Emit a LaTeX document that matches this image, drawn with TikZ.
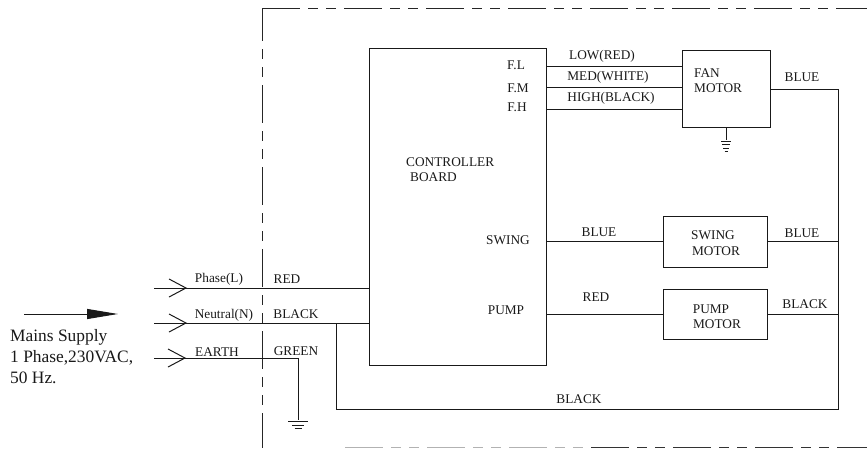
\documentclass[tikz,border=0pt]{standalone}
\usepackage{fontspec}
\setmainfont{Liberation Serif}
\usetikzlibrary{arrows.meta, calc}

\tikzset{
	wire/.style={line width=1pt, color=black!90},
	motorbox/.style={draw, line width=1pt, color=black!90, inner sep=0pt, outer sep=0pt},
	fence/.style={line width=0.9pt, color=black!85, dash pattern=on 38pt off 8pt on 10pt off 8pt on 10pt off 8pt},
	lbl/.style={inner sep=0pt, font=\fontsize{13.3}{15}\selectfont, color=black!90},
	lblw/.style={lbl, anchor=west},
	mains/.style={inner sep=0pt, anchor=west, font=\fontsize{17.4}{19}\selectfont, color=black!90},
}

\begin{document}
\begin{tikzpicture}[x=1pt, y=-1pt]

\newcommand\groundbars[2]{
	\foreach \off/\len in {#2} {
		\draw[wire] ($(#1)+(-\len/2,\off)$) -- ($(#1)+(\len/2,\off)$);
	}
}
\newcommand\chevron[1]{ \draw[wire] ($(#1)+(-17,-9)$) -- (#1) -- ($(#1)+(-17,9)$); }

\useasboundingbox (0,0) rectangle (867,448);

\node[coordinate] (cornertl) at (262,8) {};
\node[coordinate] (fencetr) at (867,8) {};
\node[coordinate] (fencebl) at (262,448) {};
\node[coordinate] (fencebs) at (345,447) {};
\node[coordinate] (fencebm) at (591,447) {};
\node[coordinate] (fencebr) at (867,447) {};
\draw[fence] (cornertl) -- (fencetr);
\draw[fence, dash phase=5pt] (cornertl) -- (fencebl);
\draw[fence, color=black!30] (fencebs) -- (fencebm);
\draw[fence, color=black!80] (fencebm) -- (fencebr);

\node[motorbox, minimum width=177pt, minimum height=317pt] (board) at (457.5,206.5) {};
\node[motorbox, minimum width=88pt, minimum height=77pt] (fan) at (726,88.5) {};
\node[motorbox, minimum width=104pt, minimum height=51pt] (swing) at (715,241.5) {};
\node[motorbox, minimum width=104pt, minimum height=50pt] (pump) at (715,314) {};

\node[coordinate] (supl) at (154,288) {};
\node[coordinate] (supn) at (154,323) {};
\node[coordinate] (supe) at (154,358) {};
\node[coordinate] (tipl) at (186,288) {};
\node[coordinate] (tipn) at (186,323) {};
\node[coordinate] (tipe) at (185,358) {};
\node[coordinate] (tapn) at (336,323) {};
\node[coordinate] (gndmain) at (298,420) {};
\node[coordinate] (gndfan) at (726,140) {};
\node[coordinate] (retcorner) at (838,409) {};
\node[coordinate] (rettop) at (838,89) {};
\node[coordinate] (mainsa) at (24,314) {};
\node[coordinate] (mainsb) at (118,314) {};

\draw[wire, -{Triangle[length=31pt, width=10pt]}] (mainsa) -- (mainsb);

\chevron{tipl};
\chevron{tipn};
\chevron{tipe};

\draw[wire] (supl) -- (board.west |- supl);
\draw[wire] (supn) -- (board.west |- supn);
\draw[wire] (supe) -- (gndmain |- supe) -- (gndmain);
\draw[wire] (tapn) |- (retcorner) -- (rettop) -- (fan.east |- rettop);

\foreach \y in {66, 87, 109} {
	\draw[wire] (board.east |- 0,\y) -- (fan.west |- 0,\y);
}
\draw[wire] (board.east |- swing) -- (swing);
\draw[wire] (swing) -- (rettop |- swing);
\draw[wire] (board.east |- pump) -- (pump);
\draw[wire] (pump) -- (rettop |- pump);
\draw[wire] (fan.south) -- (gndfan);

\groundbars{gndmain}{1/20, 5/12, 8/7}
\groundbars{gndfan}{1/10, 4/8, 8/6, 11/3}

\node[mains] (mainsone) at (10,337) {Mains Supply};
\node[mains] (mainstwo) at (10,358) {1 Phase,230VAC,};
\node[mains] (mainsthree) at (10,378) {50 Hz.};

\node[lbl] (lblphase) at (219,279) {Phase(L)};
\node[lbl] (lblneutral) at (224,315) {Neutral(N)};
\node[lbl] (lblearth) at (217,352) {EARTH};
\node[lbl] (lblred) at (287,279) {RED};
\node[lbl] (lblblack) at (296,314) {BLACK};
\node[lbl] (lblgreen) at (296,351) {GREEN};

\node[lbl] (pinfl) at (516,65) {F.L};
\node[lbl] (pinfm) at (518,88) {F.M};
\node[lbl] (pinfh) at (517,107) {F.H};
\node[lbl] (pinswing) at (508,240) {SWING};
\node[lbl] (pinpump) at (506,310) {PUMP};
\node[lblw] (boardone) at (406,162) {CONTROLLER};
\node[lblw] (boardtwo) at (410,177) {BOARD};

\node[lbl] (lbllow) at (602,56) {LOW(RED)};
\node[lbl] (lblmed) at (608,77) {MED(WHITE)};
\node[lbl] (lblhigh) at (611,98) {HIGH(BLACK)};
\node[lbl] (lblswing) at (599,232) {BLUE};
\node[lbl] (lblpump) at (596,297) {RED};

\node[lblw] (fanone) at (694,73) {FAN};
\node[lblw] (fantwo) at (694,88) {MOTOR};
\node[lbl] (swingone) at (713,235) {SWING};
\node[lbl] (swingtwo) at (716,251) {MOTOR};
\node[lbl] (pumpone) at (711,309) {PUMP};
\node[lbl] (pumptwo) at (717,324) {MOTOR};

\node[lbl] (retfan) at (802,77) {BLUE};
\node[lbl] (retswing) at (802,233) {BLUE};
\node[lbl] (retpump) at (805,304) {BLACK};
\node[lbl] (retbottom) at (579,399) {BLACK};

\end{tikzpicture}
\end{document}
